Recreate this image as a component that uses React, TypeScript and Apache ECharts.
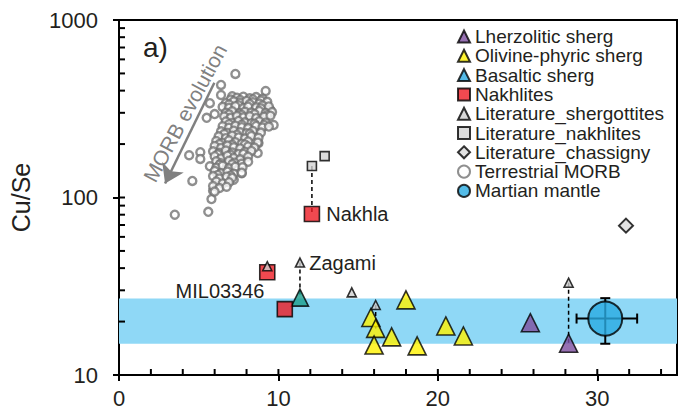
import React, { useEffect, useRef } from "react";
import * as echarts from "echarts";

const FONT = "'Liberation Sans', Arial, Helvetica, sans-serif";
const TXT = "#231f20";

const X_LABELS = [0, 10, 20, 30];
const X_TICKS_INNER = [0, 2, 4, 6, 8, 10, 12, 14, 16, 18, 20, 22, 24, 26, 28, 30, 32, 34];
const Y_TICKS_INNER = [10, 20, 30, 40, 50, 60, 70, 80, 90, 100, 200, 300, 400, 500, 600, 700, 800, 900, 1000];
const BAND = [15, 27];

const LHERZOLITIC = [[25.8, 19.7], [28.2, 15.1]];
const OLIVINE = [
  [15.8, 21.1], [16.1, 18.3], [16.0, 14.75], [17.1, 16.4],
  [18.0, 26.5], [18.7, 14.6], [20.5, 18.9], [21.6, 16.6],
];
const BASALTIC = [[11.35, 27.3]];
const NAKHLITES = [[9.3, 37.9], [10.4, 23.5], [12.1, 80.7]];
const NAKHLITE_LABELS = ["", "MIL03346", "Nakhla"];
const LIT_SHERG = [[9.3, 41], [11.35, 43], [14.6, 29.2], [16.1, 24.8], [28.2, 33.1]];
const LIT_SHERG_LABELS = ["", "Zagami", "", "", ""];
const LIT_NAKH = [[12.1, 150.5], [12.9, 171]];
const LIT_CHASS = [[31.8, 69.4]];
const MANTLE = [[30.5, 20.8]];
// x, y, xLow, xHigh, yLow, yHigh
const MANTLE_ERR = [[30.5, 20.8, 28.7, 32.5, 15, 27.1]];
// x, yTop, yBottom
const TIE_LINES = [[11.35, 43, 27.3], [12.1, 150.5, 80.7], [16.1, 24.8, 18.3], [28.2, 33.1, 15.1]];
const MORB_ARROW = [[5.98, 443], [2.89, 120]];

const MORB = [
  [7.3, 497], [6.4, 431], [6.4, 378], [5.7, 340], [9.2, 398], [5.5, 281], [6.0, 295],
  [9.5, 311], [9.7, 256], [4.4, 173], [5.1, 180], [5.1, 165], [4.6, 124], [3.5, 80],
  [5.6, 83], [5.8, 98], [5.9, 109], [8.75, 203], [8.7, 178], [7.7, 137], [7.2, 126],
  [7.1, 372], [7.4, 365], [7.8, 370], [8.2, 362], [8.6, 368], [9.0, 360],
  [7.0, 356], [7.6, 354], [8.4, 357], [8.9, 352],
  [6.7, 340], [7.2, 348], [7.6, 342], [8.0, 350], [8.4, 344], [8.8, 338], [9.3, 346],
  [6.9, 334], [7.5, 331], [8.2, 336], [9.0, 330],
  [6.5, 324], [6.9, 320], [7.3, 327], [7.8, 319], [8.1, 325], [8.6, 322], [8.9, 318], [9.4, 326],
  [6.7, 300], [7.1, 306], [7.6, 298], [7.9, 304], [8.3, 301], [8.8, 307], [9.2, 299], [9.6, 303],
  [6.9, 294], [7.7, 292], [8.5, 295], [9.3, 291],
  [6.6, 286], [7.0, 281], [7.4, 288], [7.8, 283], [8.2, 287], [8.6, 280], [9.1, 285], [9.5, 289],
  [6.7, 268], [7.1, 263], [7.5, 270], [7.9, 265], [8.3, 262], [8.8, 269], [9.2, 264],
  [6.9, 259], [7.7, 257], [8.5, 260], [9.1, 256],
  [6.5, 252], [6.9, 247], [7.3, 254], [7.7, 249], [8.1, 246], [8.6, 253], [9.0, 248], [9.4, 251],
  [6.4, 236], [6.8, 231], [7.2, 238], [7.6, 233], [8.0, 230], [8.4, 237], [8.9, 232],
  [6.6, 228], [7.4, 226], [8.2, 229],
  [6.25, 221], [6.7, 216], [7.1, 223], [7.5, 218], [7.9, 215], [8.3, 222], [8.75, 217],
  [6.1, 208], [6.5, 203], [6.9, 210], [7.3, 205], [7.7, 201], [8.1, 207], [8.7, 204],
  [6.3, 200], [7.1, 198], [7.9, 199],
  [6.0, 195], [6.4, 190], [6.8, 196], [7.2, 192], [7.6, 189], [8.1, 194], [8.5, 191],
  [5.9, 182], [6.3, 178], [6.7, 184], [7.1, 179], [7.5, 176], [7.9, 181], [8.3, 183],
  [6.2, 175], [7.0, 174], [7.8, 176],
  [6.0, 171], [6.4, 166], [6.8, 172], [7.2, 167], [7.6, 164], [8.1, 170],
  [6.1, 160], [6.4, 156], [6.9, 161], [7.25, 157], [7.7, 155], [8.1, 159],
  [6.3, 153], [7.1, 154],
  [5.7, 150], [6.1, 147], [6.5, 151], [6.9, 146], [7.3, 149], [7.75, 148],
  [6.0, 141], [6.4, 137], [6.8, 140], [7.2, 136], [7.7, 138],
  [6.2, 134], [7.0, 133],
  [5.9, 132], [6.3, 128], [6.75, 131], [7.1, 129],
  [6.1, 123], [6.5, 120], [6.9, 122],
  [5.9, 116], [6.3, 113], [6.75, 115],
  [6.0, 108],
];

const BORDER = { borderColor: "#000", borderWidth: 1.6 };

export default function App() {
  const ref = useRef<HTMLDivElement>(null);
  useEffect(() => {
    if (!ref.current) return;
    const chart = echarts.init(ref.current, null, { renderer: "svg" });
    const labelStyle = {
      fontFamily: FONT, fontSize: 20, color: TXT, fontWeight: "normal",
      textBorderWidth: 0, opacity: 1,
    };

    const option: any = {
      animation: false,
      backgroundColor: "#fff",
      textStyle: { fontFamily: FONT },
      grid: {
        left: 117, right: 1, top: 20, bottom: 44,
        show: true, borderColor: "#000", borderWidth: 2, backgroundColor: "transparent",
      },
      legend: {
        orient: "vertical",
        left: 457,
        top: 27,
        padding: 0,
        itemWidth: 12,
        itemHeight: 12,
        itemGap: 0.3,
        selectedMode: false,
        textStyle: { fontFamily: FONT, fontSize: 19, color: TXT, lineHeight: 19 },
        data: [
          { name: "Lherzolitic sherg" },
          { name: "Olivine-phyric sherg" },
          { name: "Basaltic sherg", itemStyle: { color: "#27a9e1" } },
          { name: "Nakhlites" },
          { name: "Literature_shergottites" },
          { name: "Literature_nakhlites" },
          { name: "Literature_chassigny" },
          { name: "Terrestrial MORB" },
          { name: "Martian mantle" },
        ],
      },
      xAxis: {
        type: "value",
        min: 0,
        max: 35,
        interval: 10,
        splitLine: { show: false },
        axisLine: { lineStyle: { color: "#000", width: 2 } },
        axisTick: { show: true, inside: false, length: 6, lineStyle: { color: "#000", width: 2 }, customValues: X_LABELS },
        axisLabel: { fontFamily: FONT, fontSize: 22, color: TXT, margin: 12, customValues: X_LABELS },
      },
      yAxis: {
        type: "log",
        logBase: 10,
        min: 10,
        max: 1000,
        name: "Cu/Se",
        nameLocation: "middle",
        nameGap: 86,
        nameTextStyle: { fontFamily: FONT, fontSize: 25, color: TXT },
        splitLine: { show: false },
        axisLine: { lineStyle: { color: "#000", width: 2 } },
        axisTick: { show: true, inside: false, length: 6, lineStyle: { color: "#000", width: 2 } },
        axisLabel: {
          fontFamily: FONT, fontSize: 22, color: TXT, margin: 21,
          formatter: (v: number) => String(Math.round(v)),
        },
      },
      graphic: [
        {
          type: "text", left: 143, top: 33,
          style: { text: "a)", fontSize: 28, fontFamily: FONT, fill: TXT },
        },
        {
          type: "text", x: 185, y: 113, rotation: (61.8 * Math.PI) / 180,
          style: {
            text: "MORB evolution", fontSize: 21, fontFamily: FONT, fill: "#808080",
            align: "center", verticalAlign: "middle",
          },
        },
      ],
      series: [
        {
          name: "Terrestrial MORB",
          type: "scatter",
          symbol: "circle",
          symbolSize: 8,
          itemStyle: { color: "#fff", borderColor: "#737373", borderWidth: 2.4 },
          data: MORB,
          markArea: {
            silent: true,
            itemStyle: { color: "#8fd8f6" },
            data: [[{ yAxis: BAND[0] }, { yAxis: BAND[1] }]],
          },
          markLine: {
            silent: true,
            symbol: ["none", "arrow"],
            symbolSize: 18,
            label: { show: false },
            lineStyle: { color: "#808080", width: 2.5, type: "solid" },
            data: [[{ coord: MORB_ARROW[0] }, { coord: MORB_ARROW[1] }]],
          },
        },
        {
          type: "custom",
          name: "xticks",
          silent: true,
          data: X_TICKS_INNER.map((v) => [v, 10]),
          renderItem: (_p: any, api: any) => {
            const p = api.coord([api.value(0), 10]);
            return {
              type: "line",
              shape: { x1: p[0], y1: p[1], x2: p[0], y2: p[1] - 6 },
              style: { stroke: "#000", lineWidth: 2 },
            };
          },
        },
        {
          type: "custom",
          name: "yticks",
          silent: true,
          data: Y_TICKS_INNER.map((v) => [0, v]),
          renderItem: (_p: any, api: any) => {
            const p = api.coord([0, api.value(1)]);
            return {
              type: "line",
              shape: { x1: p[0], y1: p[1], x2: p[0] + 6, y2: p[1] },
              style: { stroke: "#000", lineWidth: 2 },
            };
          },
        },
        {
          type: "custom",
          name: "ties",
          silent: true,
          data: TIE_LINES,
          renderItem: (_p: any, api: any) => {
            const a = api.coord([api.value(0), api.value(1)]);
            const b = api.coord([api.value(0), api.value(2)]);
            return {
              type: "line",
              shape: { x1: a[0], y1: a[1], x2: b[0], y2: b[1] },
              style: { stroke: "#000", lineWidth: 1.5, lineDash: [4, 3] },
            };
          },
        },
        {
          type: "custom",
          name: "mantleErr",
          silent: true,
          data: MANTLE_ERR,
          renderItem: (_p: any, api: any) => {
            const x = api.value(0), y = api.value(1);
            const l = api.coord([api.value(2), y]);
            const r = api.coord([api.value(3), y]);
            const b = api.coord([x, api.value(4)]);
            const t = api.coord([x, api.value(5)]);
            const st = { stroke: "#000", lineWidth: 2 };
            const c = 5;
            return {
              type: "group",
              children: [
                { type: "line", shape: { x1: l[0], y1: l[1], x2: r[0], y2: r[1] }, style: st },
                { type: "line", shape: { x1: t[0], y1: t[1], x2: b[0], y2: b[1] }, style: st },
                { type: "line", shape: { x1: l[0], y1: l[1] - c, x2: l[0], y2: l[1] + c }, style: st },
                { type: "line", shape: { x1: r[0], y1: r[1] - c, x2: r[0], y2: r[1] + c }, style: st },
                { type: "line", shape: { x1: t[0] - c, y1: t[1], x2: t[0] + c, y2: t[1] }, style: st },
                { type: "line", shape: { x1: b[0] - c, y1: b[1], x2: b[0] + c, y2: b[1] }, style: st },
              ],
            };
          },
        },
        {
          name: "Lherzolitic sherg",
          type: "scatter",
          symbol: "triangle",
          symbolSize: 18,
          itemStyle: { color: "#7d4e9f", ...BORDER },
          data: LHERZOLITIC,
        },
        {
          name: "Olivine-phyric sherg",
          type: "scatter",
          symbol: "triangle",
          symbolSize: 18,
          itemStyle: { color: "#fff200", ...BORDER },
          data: OLIVINE,
        },
        {
          name: "Basaltic sherg",
          type: "scatter",
          symbol: "triangle",
          symbolSize: 17,
          itemStyle: { color: "#1b9e8c", ...BORDER },
          data: BASALTIC,
        },
        {
          name: "Nakhlites",
          type: "scatter",
          symbol: "rect",
          symbolSize: 15,
          itemStyle: { color: "#ed1c24", ...BORDER },
          data: NAKHLITES.map((d, i) => {
            const lab = NAKHLITE_LABELS[i];
            if (lab === "Nakhla") {
              return { value: d, label: { show: true, formatter: lab, position: "right", distance: 6, ...labelStyle } };
            }
            if (lab) {
              return { value: d, label: { show: true, formatter: lab, position: "left", distance: 5, offset: [-7, -18], ...labelStyle } };
            }
            return d;
          }),
        },
        {
          name: "Literature_shergottites",
          type: "scatter",
          symbol: "triangle",
          symbolSize: 9,
          itemStyle: { color: "#d0d0d0", ...BORDER },
          data: LIT_SHERG.map((d, i) => {
            const lab = LIT_SHERG_LABELS[i];
            if (lab) {
              return { value: d, label: { show: true, formatter: lab, position: "right", distance: 4, ...labelStyle } };
            }
            return d;
          }),
        },
        {
          name: "Literature_nakhlites",
          type: "scatter",
          symbol: "rect",
          symbolSize: 9,
          itemStyle: { color: "#d3d3d3", ...BORDER },
          data: LIT_NAKH,
        },
        {
          name: "Literature_chassigny",
          type: "scatter",
          symbol: "diamond",
          symbolSize: 14,
          itemStyle: { color: "#dcdcdc", borderColor: "#000", borderWidth: 2 },
          data: LIT_CHASS,
        },
        {
          name: "Martian mantle",
          type: "scatter",
          symbol: "circle",
          symbolSize: 34,
          itemStyle: { color: "#29abe2", borderColor: "#000", borderWidth: 2 },
          data: MANTLE,
        },
      ],
    };
    chart.setOption(option);
    return () => chart.dispose();
  }, []);

  return (
    <div
      ref={ref}
      style={{ position: "fixed", left: 0, top: 0, width: 678, height: 419, background: "#fff" }}
    />
  );
}
